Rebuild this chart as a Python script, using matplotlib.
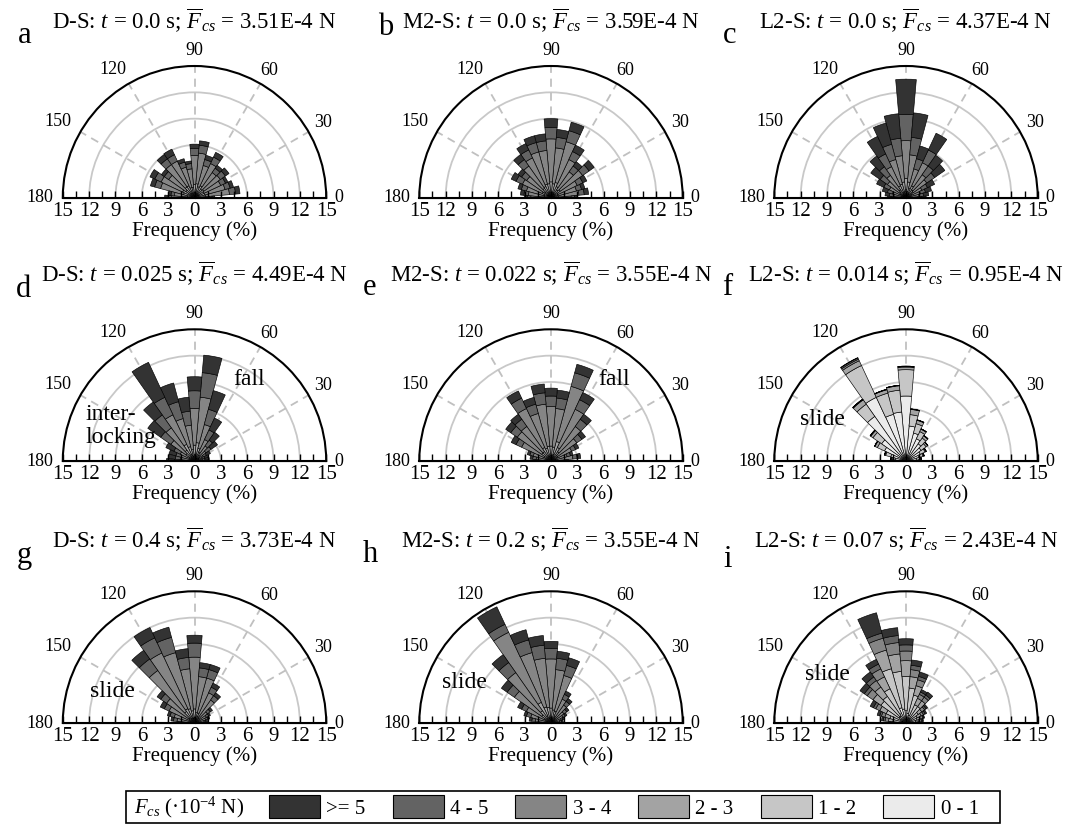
import numpy as np
import matplotlib
matplotlib.use("Agg")
import matplotlib.pyplot as plt
from matplotlib.patches import Patch, Rectangle
from matplotlib.transforms import offset_copy

plt.rcParams['font.family'] = ['Liberation Serif', 'DejaVu Serif']
plt.rcParams['mathtext.fontset'] = 'custom'
plt.rcParams['mathtext.rm'] = 'Liberation Serif'
plt.rcParams['mathtext.it'] = 'Liberation Serif:italic'
plt.rcParams['mathtext.bf'] = 'Liberation Serif:bold'

# ---------------------------------------------------------------- data
# contact-direction bins (degrees, bin centres, 10 deg wide)
angles = [0, 10, 20, 30, 40, 50, 60, 70, 80, 90, 100, 110, 120, 130, 140, 150, 160, 170, 180]

# force classes, innermost first
force_classes = ['0 - 1', '1 - 2', '2 - 3', '3 - 4', '4 - 5', '>= 5']
class_colors = ['#EBEBEB', '#C6C6C6', '#A3A3A3', '#858585', '#636363', '#333333']

specimens = ['D-S', 'M2-S', 'L2-S', 'D-S', 'M2-S', 'L2-S', 'D-S', 'M2-S', 'L2-S']
times = ['0.0', '0.0', '0.0', '0.025', '0.022', '0.014', '0.4', '0.2', '0.07']
mean_force = ['3.51', '3.59', '4.37', '4.49', '3.55', '0.95', '3.73', '3.55', '2.43']
panel_letters = ['a', 'b', 'c', 'd', 'e', 'f', 'g', 'h', 'i']

# frequency (%) per bin for each force class: [0-1, 1-2, 2-3, 3-4, 4-5, >=5]
rose_a = [
    [0.1, 0.2, 0.2, 0.2, 0.2, 0.2, 0.2, 0.2, 0.2, 0.2, 0.2, 0.2, 0.2, 0.2, 0.2, 0.2, 0.2, 0.1, 0.1],
    [0.2, 0.3, 0.3, 0.3, 0.3, 0.3, 0.4, 0.3, 0.4, 0.4, 0.3, 0.3, 0.4, 0.4, 0.3, 0.4, 0.3, 0.2, 0.2],
    [0.4, 0.8, 0.7, 0.7, 0.8, 0.7, 0.9, 0.8, 1.0, 0.9, 0.7, 0.7, 0.9, 0.9, 0.7, 0.9, 0.8, 0.5, 0.5],
    [1.0, 2.7, 2.4, 2.1, 2.3, 2.3, 2.8, 2.5, 3.5, 3.3, 2.1, 2.4, 3.1, 3.1, 2.4, 2.7, 2.7, 1.5, 1.8],
    [0.3, 0.7, 0.6, 0.6, 0.7, 0.6, 0.8, 0.7, 0.9, 0.8, 0.6, 0.6, 0.8, 0.8, 0.6, 0.8, 0.7, 0.4, 0.4],
    [0.3, 0.5, 0.4, 0.3, 0.5, 0.4, 0.6, 0.5, 0.5, 0.5, 0.3, 0.4, 0.7, 0.6, 0.4, 0.6, 0.5, 0.3, 0.4],
]
rose_b = [
    [0.1, 0.1, 0.1, 0.1, 0.2, 0.1, 0.2, 0.2, 0.2, 0.2, 0.2, 0.2, 0.2, 0.2, 0.1, 0.1, 0.1, 0.1, 0.1],
    [0.2, 0.2, 0.2, 0.2, 0.3, 0.3, 0.3, 0.4, 0.4, 0.4, 0.4, 0.4, 0.3, 0.3, 0.2, 0.3, 0.2, 0.2, 0.2],
    [0.4, 0.6, 0.5, 0.6, 0.8, 0.7, 0.9, 1.2, 1.0, 1.2, 1.0, 1.0, 0.9, 0.8, 0.6, 0.7, 0.5, 0.5, 0.4],
    [1.6, 2.3, 2.2, 2.4, 3.1, 2.5, 3.4, 4.8, 4.1, 4.9, 3.8, 3.8, 3.6, 3.1, 2.5, 2.5, 2.1, 1.8, 1.6],
    [0.4, 0.6, 0.6, 0.7, 0.9, 0.8, 1.0, 1.3, 1.2, 1.3, 1.1, 1.1, 1.0, 0.9, 0.7, 0.8, 0.6, 0.5, 0.4],
    [0.3, 0.5, 0.4, 0.5, 0.7, 0.6, 0.8, 1.0, 0.9, 1.0, 0.8, 0.8, 0.8, 0.7, 0.5, 0.6, 0.4, 0.4, 0.3],
]
rose_c = [
    [0.1, 0.1, 0.1, 0.1, 0.1, 0.1, 0.2, 0.1, 0.2, 0.3, 0.2, 0.2, 0.2, 0.1, 0.1, 0.1, 0.1, 0.1, 0.1],
    [0.1, 0.1, 0.1, 0.2, 0.3, 0.3, 0.4, 0.3, 0.5, 0.6, 0.5, 0.4, 0.4, 0.3, 0.2, 0.2, 0.1, 0.1, 0.1],
    [0.3, 0.3, 0.4, 0.4, 0.6, 0.7, 0.9, 0.7, 1.1, 1.3, 1.1, 1.0, 0.9, 0.7, 0.6, 0.4, 0.3, 0.3, 0.3],
    [0.8, 1.0, 1.1, 1.3, 1.9, 2.1, 2.9, 2.3, 3.1, 4.3, 3.0, 2.9, 2.4, 2.0, 1.7, 1.4, 1.1, 0.9, 0.8],
    [0.5, 0.5, 0.6, 0.7, 1.1, 1.2, 1.6, 1.2, 2.0, 3.0, 2.0, 1.8, 1.6, 1.2, 1.0, 0.7, 0.6, 0.5, 0.4],
    [0.5, 0.6, 0.7, 0.9, 1.4, 1.5, 2.1, 1.5, 2.8, 4.0, 2.8, 2.5, 2.2, 1.5, 1.3, 0.9, 0.6, 0.5, 0.4],
]
rose_d = [
    [0.1, 0.1, 0.1, 0.1, 0.1, 0.1, 0.2, 0.2, 0.3, 0.3, 0.2, 0.3, 0.3, 0.2, 0.2, 0.1, 0.1, 0.1, 0.1],
    [0.1, 0.1, 0.1, 0.1, 0.2, 0.2, 0.3, 0.4, 0.5, 0.4, 0.3, 0.4, 0.5, 0.4, 0.3, 0.2, 0.1, 0.1, 0.1],
    [0.2, 0.2, 0.2, 0.3, 0.4, 0.5, 0.6, 0.9, 1.3, 1.1, 0.8, 1.0, 1.3, 0.9, 0.7, 0.4, 0.4, 0.4, 0.4],
    [0.5, 0.5, 0.5, 0.6, 0.9, 1.3, 1.6, 2.8, 5.2, 4.2, 2.8, 3.3, 3.7, 3.1, 2.1, 1.1, 1.0, 1.0, 1.1],
    [0.3, 0.3, 0.3, 0.4, 0.7, 0.8, 1.2, 1.8, 2.8, 2.0, 1.6, 2.0, 2.2, 1.8, 1.4, 0.8, 0.6, 0.6, 0.6],
    [0.4, 0.5, 0.4, 0.5, 0.9, 1.1, 1.5, 2.2, 2.0, 1.6, 1.6, 2.2, 4.4, 1.8, 1.8, 1.0, 0.8, 0.8, 0.9],
]
rose_e = [
    [0.1, 0.1, 0.1, 0.1, 0.1, 0.2, 0.2, 0.3, 0.2, 0.2, 0.2, 0.2, 0.2, 0.2, 0.2, 0.1, 0.1, 0.1, 0.1],
    [0.1, 0.2, 0.1, 0.2, 0.2, 0.3, 0.4, 0.5, 0.4, 0.4, 0.4, 0.3, 0.4, 0.3, 0.3, 0.2, 0.1, 0.1, 0.1],
    [0.3, 0.4, 0.3, 0.5, 0.6, 0.8, 1.1, 1.5, 1.0, 1.1, 1.1, 1.0, 1.1, 0.8, 0.8, 0.6, 0.4, 0.3, 0.3],
    [1.0, 1.8, 1.4, 1.8, 2.7, 3.5, 4.8, 6.5, 4.4, 4.5, 4.8, 4.1, 4.9, 3.5, 3.4, 2.8, 1.5, 1.2, 1.0],
    [0.3, 0.5, 0.4, 0.5, 0.7, 1.0, 1.2, 1.6, 1.2, 1.2, 1.3, 1.1, 1.3, 1.0, 0.9, 0.7, 0.4, 0.4, 0.3],
    [0.2, 0.4, 0.3, 0.4, 0.5, 0.7, 0.9, 1.0, 0.9, 0.9, 1.0, 0.8, 0.9, 0.7, 0.7, 0.6, 0.3, 0.3, 0.2],
]
rose_f = [
    [1.0, 1.2, 1.5, 1.8, 2.1, 2.4, 2.8, 3.3, 4.0, 7.4, 5.6, 5.5, 8.0, 6.2, 3.4, 2.7, 1.8, 1.2, 1.2],
    [0.4, 0.4, 0.5, 0.6, 0.7, 0.8, 0.9, 1.1, 1.3, 3.0, 2.5, 2.5, 4.0, 1.7, 1.2, 0.9, 0.6, 0.4, 0.4],
    [0.1, 0.1, 0.1, 0.1, 0.2, 0.3, 0.3, 0.4, 0.6, 0.3, 0.5, 0.4, 0.6, 0.6, 0.3, 0.3, 0.1, 0.1, 0.1],
    [0.0, 0.05, 0.05, 0.05, 0.05, 0.05, 0.05, 0.05, 0.05, 0.05, 0.05, 0.05, 0.2, 0.05, 0.05, 0.05, 0.05, 0.05, 0.05],
    [0.0, 0.0, 0.0, 0.0, 0.0, 0.0, 0.0, 0.0, 0.0, 0.05, 0.0, 0.0, 0.15, 0.05, 0.05, 0.0, 0.0, 0.0, 0.0],
    [0.0, 0.0, 0.0, 0.0, 0.0, 0.0, 0.0, 0.0, 0.0, 0.0, 0.0, 0.0, 0.05, 0.0, 0.0, 0.0, 0.0, 0.0, 0.0],
]
rose_g = [
    [0.1, 0.1, 0.1, 0.1, 0.1, 0.1, 0.1, 0.2, 0.2, 0.2, 0.2, 0.2, 0.2, 0.2, 0.1, 0.1, 0.1, 0.1, 0.1],
    [0.1, 0.1, 0.1, 0.1, 0.1, 0.2, 0.2, 0.3, 0.3, 0.4, 0.3, 0.4, 0.4, 0.4, 0.2, 0.2, 0.1, 0.1, 0.1],
    [0.1, 0.2, 0.2, 0.2, 0.3, 0.4, 0.5, 0.7, 0.7, 1.0, 0.9, 1.1, 1.2, 1.0, 0.5, 0.4, 0.3, 0.3, 0.2],
    [0.5, 0.7, 0.9, 1.1, 1.3, 2.5, 3.0, 4.1, 4.1, 5.9, 4.8, 6.6, 7.0, 5.7, 3.1, 2.5, 1.9, 1.5, 1.1],
    [0.2, 0.2, 0.3, 0.3, 0.4, 0.6, 0.7, 1.0, 1.0, 1.6, 1.3, 1.8, 1.9, 1.6, 0.8, 0.6, 0.5, 0.4, 0.3],
    [0.2, 0.2, 0.2, 0.2, 0.3, 0.4, 0.5, 0.6, 0.6, 0.9, 1.0, 1.2, 1.3, 1.2, 0.5, 0.5, 0.3, 0.3, 0.2],
]
rose_h = [
    [0.1, 0.1, 0.1, 0.1, 0.1, 0.1, 0.1, 0.2, 0.2, 0.2, 0.2, 0.2, 0.3, 0.2, 0.2, 0.1, 0.1, 0.1, 0.1],
    [0.1, 0.1, 0.1, 0.1, 0.1, 0.1, 0.2, 0.3, 0.3, 0.4, 0.4, 0.4, 0.6, 0.4, 0.3, 0.2, 0.1, 0.1, 0.1],
    [0.1, 0.2, 0.2, 0.2, 0.3, 0.4, 0.5, 0.9, 1.0, 1.1, 1.2, 1.3, 1.7, 1.1, 0.8, 0.5, 0.4, 0.3, 0.2],
    [0.4, 0.6, 0.8, 1.1, 1.3, 1.9, 2.2, 4.2, 4.6, 5.6, 5.6, 6.4, 8.8, 5.3, 3.8, 2.3, 1.8, 1.3, 0.7],
    [0.2, 0.2, 0.2, 0.3, 0.4, 0.5, 0.6, 1.2, 1.3, 1.2, 1.5, 1.5, 1.0, 1.4, 1.0, 0.6, 0.5, 0.4, 0.2],
    [0.1, 0.2, 0.2, 0.2, 0.3, 0.4, 0.4, 0.9, 0.8, 0.8, 1.1, 1.2, 2.2, 1.1, 0.8, 0.5, 0.3, 0.3, 0.2],
]
rose_i = [
    [0.3, 0.3, 0.4, 0.4, 0.5, 0.6, 0.6, 0.9, 1.1, 1.4, 1.6, 1.8, 1.2, 1.0, 1.0, 0.7, 0.5, 0.4, 0.3],
    [0.6, 0.8, 0.9, 1.0, 1.2, 1.7, 1.7, 2.4, 2.9, 3.9, 4.3, 4.6, 3.1, 2.7, 2.5, 1.8, 1.4, 1.1, 0.8],
    [0.3, 0.4, 0.4, 0.5, 0.5, 0.8, 0.8, 1.1, 1.3, 1.8, 2.0, 2.2, 1.5, 1.3, 1.1, 0.8, 0.6, 0.5, 0.4],
    [0.2, 0.3, 0.3, 0.3, 0.4, 0.5, 0.5, 0.7, 0.8, 1.1, 1.3, 1.4, 1.0, 0.9, 0.8, 0.5, 0.4, 0.4, 0.3],
    [0.1, 0.1, 0.1, 0.2, 0.2, 0.3, 0.3, 0.4, 0.5, 0.7, 0.8, 0.6, 0.6, 0.5, 0.4, 0.3, 0.2, 0.2, 0.1],
    [0.0, 0.1, 0.1, 0.2, 0.2, 0.4, 0.3, 0.5, 0.6, 0.7, 0.9, 2.4, 0.6, 0.7, 0.6, 0.4, 0.3, 0.2, 0.1],
]
roses = [rose_a, rose_b, rose_c, rose_d, rose_e, rose_f, rose_g, rose_h, rose_i]

radial_ticks = [-15, -12, -9, -6, -3, 0, 3, 6, 9, 12, 15]
angle_labels = [0, 30, 60, 90, 120, 150, 180]

# ---------------------------------------------------------------- layout (pixels)
W, H = 1083, 825
R = 131.7                       # radius of the 15 % circle
col_x = [194.5, 551.0, 906.0]   # centre of each rose
row_y = [197.7, 461.0, 723.0]   # baseline of each rose (from top)
title_y = [29, 282, 548]
label_r = [16.4, 17.1, 17.0, 17.0, 17.5, 17.9, 17.6]   # radius of angle labels
label_dir = [0, 31, 60, 90, 122, 150, 180]            # direction of angle labels
label_dy = [0, -2, -2, -2, -2, -2, 0]                  # vertical nudge (pixels)
letter_pos = [(18, 43), (378, 35), (723, 43),
              (16, 297), (363, 295), (722, 295),
              (17, 563), (363, 562), (723, 567)]
notes = [(3, 'fall', 233, 385), (3, 'inter-', 85, 420), (3, 'locking', 85, 443),
         (4, 'fall', 598, 385), (5, 'slide', 800, 425),
         (6, 'slide', 90, 697), (7, 'slide', 442, 688), (8, 'slide', 805, 680)]

fig = plt.figure(figsize=(W / 100, H / 100), dpi=100)


def fx(px):
    return px / W


def fy(py):
    return 1 - py / H


theta = np.deg2rad(angles)
width = np.deg2rad(10)

for k, rose in enumerate(roses):
    cx = col_x[k % 3]
    cy = row_y[k // 3]

    # polar axes: a half wedge sits in the middle of a square box
    ax = fig.add_axes([fx(cx - R), (H - cy - 0.5 * R) / H, 2 * R / W, 2 * R / H],
                      projection='polar')
    ax.set_thetamin(0)
    ax.set_thetamax(180)
    ax.set_rlim(0, 15)
    ax.set_axisbelow(True)

    ax.set_xticks(np.deg2rad(range(0, 181, 10)))
    ax.set_xticklabels([])
    ax.tick_params(axis='x', direction='in', length=5, width=1)
    ax.xaxis.grid(False)
    for d, dd, rl, dy in zip(angle_labels, label_dir, label_r, label_dy):
        tr = offset_copy(ax.transData, fig=fig, x=0, y=dy, units='dots')
        ax.text(np.deg2rad(dd), rl, str(d), ha='center', va='center',
                fontsize=13, clip_on=False, transform=tr)
    ax.set_yticks([3, 6, 9, 12])
    ax.set_yticklabels([])
    ax.tick_params(axis='y', length=0)
    ax.yaxis.grid(True, color='#C8C8C8', lw=1.3, ls='-')
    ax.spines['polar'].set_linewidth(1.5)
    for s in ('start', 'end', 'inner'):
        ax.spines[s].set_visible(False)

    for d in (30, 60, 90, 120, 150):
        ax.plot([np.deg2rad(d)] * 2, [0, 15], color='#C0C0C0', lw=1.3,
                ls=(0, (4.5, 3.2)), zorder=0.6)

    bottom = np.zeros(len(angles))
    for vals, col in zip(rose, class_colors):
        vals = np.asarray(vals, dtype=float)
        ax.bar(theta, vals, width=width, bottom=bottom, color=col,
               edgecolor='black', linewidth=0.45, align='center', zorder=1)
        bottom = bottom + vals

    # cartesian overlay for the frequency scale along the diameter
    axc = fig.add_axes([fx(cx - R), (H - cy) / H, 2 * R / W, R / H])
    axc.patch.set_alpha(0)
    axc.set_xlim(-15, 15)
    axc.set_ylim(0, 15)
    for s in ('top', 'left', 'right'):
        axc.spines[s].set_visible(False)
    axc.spines['bottom'].set_linewidth(1.5)
    minor = np.arange(-15, 15.01, 1.5)
    axc.set_xticks(minor)
    axc.set_xticklabels([f"{abs(v):g}" if v in radial_ticks else '' for v in minor])
    axc.tick_params(axis='x', direction='in', length=5, width=1, labelsize=15, pad=3)
    axc.set_yticks([])
    axc.set_xlabel('Frequency (%)', fontsize=15, labelpad=0)

    title = (f"{specimens[k]}: $t$ = {times[k]} s; "
             r"$\overline{F}_{cs}$" + f" = {mean_force[k]}E-4 N")
    fig.text(fx(cx), fy(title_y[k // 3]), title, ha='center', va='baseline',
             fontsize=16.5)
    lx, ly = letter_pos[k]
    fig.text(fx(lx), fy(ly), panel_letters[k], ha='left', va='baseline',
             fontsize=22)

for k, txt, x, y in notes:
    fig.text(fx(x), fy(y), txt, ha='left', va='baseline', fontsize=17)

# legend row
handles = [Patch(facecolor=c, edgecolor='black', linewidth=0.8)
           for c in class_colors[::-1]]
fig.legend(handles, force_classes[::-1], loc='center left',
           bbox_to_anchor=(fx(269), fy(807)), ncol=6, frameon=False,
           fontsize=15, handlelength=2.45, handleheight=1.3,
           handletextpad=0.3, columnspacing=1.3, borderpad=0, borderaxespad=0)
fig.text(fx(134), fy(807), r"$F_{cs}$ (·10$^{-4}$ N)", ha='left', va='center',
         fontsize=15)
fig.add_artist(Rectangle((fx(126), fy(823)), fx(1000 - 126), (823 - 791) / H,
                         transform=fig.transFigure, fill=False,
                         edgecolor='black', linewidth=1.2))

fig.savefig('out.png', dpi=100)
